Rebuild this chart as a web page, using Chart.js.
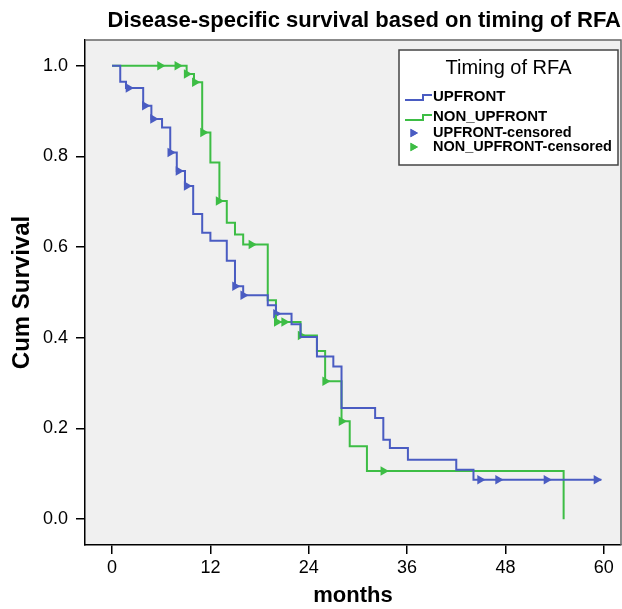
<!DOCTYPE html>
<html>
<head>
<meta charset="utf-8">
<script src="https://cdn.jsdelivr.net/npm/chart.js@4"></script>
<style>
  html, body { margin: 0; padding: 0; background: #fff; }
  canvas { display: block; }
</style>
</head>
<body>
<canvas id="kmChart" width="622" height="609"></canvas>
<script>
const xTicks = [0, 12, 24, 36, 48, 60];
const yTicks = [0, 0.2, 0.4, 0.6, 0.8, 1.0];

// Kaplan-Meier steps: month of each drop and survival after it
const upfrontMonths = [0, 1.0, 1.7, 3.8, 4.8, 6.1, 7.1, 7.9, 8.9, 9.9, 11.0, 12.0, 14.0, 15.0, 16.0, 19.0, 20.0, 21.9, 23.0, 25.0, 27.0, 28.0, 32.1, 33.1, 33.9, 36.1, 42.0, 44.1, 59.7];
const upfrontSurv = [1, 0.965, 0.951, 0.912, 0.883, 0.864, 0.809, 0.768, 0.735, 0.673, 0.632, 0.614, 0.570, 0.514, 0.494, 0.472, 0.453, 0.430, 0.402, 0.359, 0.337, 0.245, 0.223, 0.175, 0.157, 0.131, 0.109, 0.087, 0.087];
const nonUpfrontMonths = [0, 9.1, 10.0, 11.0, 12.0, 13.1, 14.0, 15.0, 16.0, 19.0, 20.0, 23.0, 25.0, 26.0, 28.0, 29.0, 31.1, 55.1];
const nonUpfrontSurv = [1, 0.982, 0.964, 0.853, 0.787, 0.702, 0.654, 0.628, 0.606, 0.483, 0.435, 0.405, 0.371, 0.304, 0.216, 0.161, 0.106, 0];

// censored cases
const upfrontCensMonths = [2.0, 4.0, 5.0, 7.1, 8.1, 9.1, 15.0, 16.0, 20.0, 44.9, 47.1, 53.0, 59.1];
const upfrontCensSurv = [0.951, 0.912, 0.883, 0.809, 0.768, 0.735, 0.514, 0.494, 0.453, 0.087, 0.087, 0.087, 0.087];
const nonUpfrontCensMonths = [5.85, 7.96, 9.1, 10.1, 11.1, 13.0, 17.0, 20.1, 21.0, 23.0, 26.0, 28.0, 33.1];
const nonUpfrontCensSurv = [1, 1, 0.982, 0.964, 0.853, 0.702, 0.606, 0.435, 0.435, 0.405, 0.304, 0.216, 0.106];

const blue = "#4a5cc2";
const green = "#3dbd45";
const fontFam = "'Liberation Sans', Arial, sans-serif";

const toPoints = (xs, ys) => xs.map((x, i) => ({ x: x, y: ys[i] }));

const frameAndLegend = {
    id: "frameAndLegend",
    beforeDraw(chart) {
        const { ctx, chartArea: a } = chart;
        ctx.save();
        ctx.fillStyle = "#f0f0f0";
        ctx.fillRect(a.left, a.top, a.right - a.left, a.bottom - a.top);
        ctx.restore();
    },
    afterDraw(chart) {
        const { ctx, chartArea: a } = chart;
        ctx.save();
        // top and right frame
        ctx.strokeStyle = "#666";
        ctx.lineWidth = 1.5;
        ctx.beginPath();
        ctx.moveTo(a.left, a.top);
        ctx.lineTo(a.right, a.top);
        ctx.lineTo(a.right, a.bottom);
        ctx.stroke();

        // legend box
        const bx = a.right - 222, by = a.top + 10, bw = 219, bh = 115;
        ctx.fillStyle = "#fff";
        ctx.fillRect(bx, by, bw, bh);
        ctx.strokeStyle = "#444";
        ctx.strokeRect(bx, by, bw, bh);
        ctx.fillStyle = "#000";
        ctx.font = "20px " + fontFam;
        ctx.textAlign = "center";
        ctx.textBaseline = "middle";
        ctx.fillText("Timing of RFA", bx + bw / 2, by + 18);

        const rows = [by + 47, by + 67, by + 83, by + 97];
        const ds = chart.data.datasets;
        ctx.textAlign = "left";
        ds.forEach((d, i) => {
            const y = rows[i];
            if (d.showLine !== false) {
                ctx.strokeStyle = d.borderColor;
                ctx.lineWidth = 2;
                ctx.beginPath();
                ctx.moveTo(bx + 6, y + 3);
                ctx.lineTo(bx + 24, y + 3);
                ctx.lineTo(bx + 24, y - 2);
                ctx.lineTo(bx + 33, y - 2);
                ctx.stroke();
                ctx.font = "bold 15px " + fontFam;
            } else {
                ctx.fillStyle = d.backgroundColor;
                Chart.helpers.drawPoint(ctx, { pointStyle: "triangle", rotation: 90, radius: 5, borderWidth: 0 }, bx + 14, y);
                ctx.fill();
                ctx.font = "bold 14.5px " + fontFam;
            }
            ctx.fillStyle = "#000";
            ctx.fillText(d.label, bx + 34, y);
        });
        ctx.restore();
    }
};

new Chart(document.getElementById("kmChart"), {
    type: "line",
    data: {
        datasets: [{
            label: "UPFRONT",
            data: toPoints(upfrontMonths, upfrontSurv),
            borderColor: blue,
            borderWidth: 2,
            stepped: true,
            pointRadius: 0,
            fill: false
        }, {
            label: "NON_UPFRONT",
            data: toPoints(nonUpfrontMonths, nonUpfrontSurv),
            borderColor: green,
            borderWidth: 2,
            stepped: true,
            pointRadius: 0,
            fill: false
        }, {
            label: "UPFRONT-censored",
            data: toPoints(upfrontCensMonths, upfrontCensSurv),
            showLine: false,
            pointStyle: "triangle",
            rotation: 90,
            pointRadius: 5.5,
            borderWidth: 0,
            backgroundColor: blue,
            borderColor: blue
        }, {
            label: "NON_UPFRONT-censored",
            data: toPoints(nonUpfrontCensMonths, nonUpfrontCensSurv),
            showLine: false,
            pointStyle: "triangle",
            rotation: 90,
            pointRadius: 5.5,
            borderWidth: 0,
            backgroundColor: green,
            borderColor: green
        }]
    },
    options: {
        responsive: false,
        animation: false,
        devicePixelRatio: 1,
        layout: { autoPadding: false, padding: { right: 1, left: 0, bottom: 0, top: 0 } },
        plugins: {
            legend: { display: false },
            tooltip: { enabled: false },
            title: {
                display: true,
                text: "Disease-specific survival based on timing of RFA",
                align: "end",
                color: "#000",
                font: { family: fontFam, size: 22, weight: "bold" },
                padding: { top: 8, bottom: 5.6 }
            }
        },
        scales: {
            x: {
                type: "linear",
                min: -3.3,
                max: 62.1,
                afterBuildTicks: s => { s.ticks = xTicks.map(v => ({ value: v })); },
                afterFit: s => { s.height = 64; s.paddingLeft = 0; s.paddingRight = 0; },
                grid: { drawOnChartArea: false, tickLength: 9, color: "#000", lineWidth: 1.5 },
                border: { color: "#000", width: 1.5 },
                ticks: { color: "#000", font: { family: fontFam, size: 18 }, padding: 3, maxRotation: 0 },
                title: {
                    display: true, text: "months", color: "#000",
                    font: { family: fontFam, size: 22, weight: "bold" },
                    padding: { top: 7, bottom: 0 }
                }
            },
            y: {
                type: "linear",
                min: -0.057,
                max: 1.057,
                afterBuildTicks: s => { s.ticks = yTicks.map(v => ({ value: v })); },
                afterFit: s => { s.width = 85; },
                grid: { drawOnChartArea: false, tickLength: 9, color: "#000", lineWidth: 1.5 },
                border: { color: "#000", width: 1.5 },
                ticks: { color: "#000", font: { family: fontFam, size: 18 }, padding: 8, callback: v => v.toFixed(1) },
                title: {
                    display: true, text: "Cum Survival", color: "#000",
                    font: { family: fontFam, size: 24, weight: "bold" },
                    padding: { top: 8, bottom: 0 }
                }
            }
        }
    },
    plugins: [frameAndLegend]
});
</script>
</body>
</html>
